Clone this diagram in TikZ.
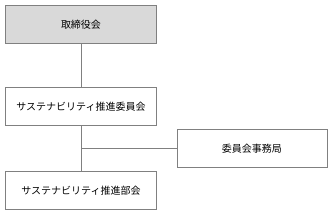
\documentclass[tikz,border=0pt]{standalone}
\usepackage{fontspec}
\newfontfamily\jpfont{Noto Sans CJK JP}
\definecolor{boxline}{HTML}{808080}
\definecolor{boxfill}{HTML}{D9D9D9}
\tikzset{
  orgbox/.style={draw=boxline, line width=1pt, minimum width=151pt, minimum height=38pt,
    inner sep=0pt, font=\jpfont\fontsize{10}{12}\selectfont},
  link/.style={draw=boxline, line width=0.8pt}
}
\begin{document}
\begin{tikzpicture}[x=1pt,y=-1pt]
\useasboundingbox (0,0) rectangle (333,216);

\node[orgbox, fill=boxfill] (board) at (81,24.5) {取締役会};
\node[orgbox] (committee) at (81,106.5) {サステナビリティ推進委員会};
\node[orgbox, minimum width=150pt] (office) at (252,148.5) {委員会事務局};
\node[orgbox] (subcommittee) at (81,191) {サステナビリティ推進部会};

\coordinate (branch) at (81,148.5);

\draw[link] (board) -- (committee);
\draw[link] (committee) -- (subcommittee);
\draw[link] (branch) -- (office);
\end{tikzpicture}
\end{document}
